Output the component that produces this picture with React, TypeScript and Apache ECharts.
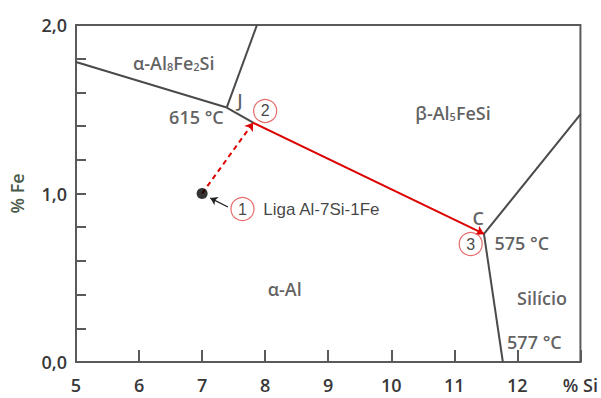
import React, { useEffect, useRef } from "react";
import * as echarts from "echarts";

// Boundary lines of the Al-Si-Fe liquidus projection (% Si, % Fe)
const boundaryAlphaJ = [[5, 1.78], [7.39, 1.51]];
const boundaryJTop = [[7.39, 1.51], [7.87, 2.0]];
const boundaryJ2 = [[7.39, 1.51], [7.81, 1.42]];
const boundaryCRight = [[11.47, 0.76], [13, 1.47]];
const boundaryCBottom = [[11.47, 0.76], [11.77, 0]];
// Solidification path
const redPath = [[7.81, 1.42], [11.47, 0.76]];
const dashedPath = [[7, 1.0], [7.81, 1.42]];
const alloyPoint = [7, 1.0];
const pointerArrow = [[7.41, 0.92], [7.13, 0.973]];

// Numbered markers
const markers = [
  { n: "1", si: 7.64, fe: 0.908 },
  { n: "2", si: 8.0, fe: 1.49 },
  { n: "3", si: 11.26, fe: 0.7 },
];

// Text annotations
const annotations = [
  { text: "α-Al{s|8}Fe{s|2}Si", si: 6.55, fe: 1.775 },
  { text: "β-Al{s|5}FeSi", si: 10.98, fe: 1.478 },
  { text: "α-Al", si: 8.31, fe: 0.433 },
  { text: "Silício", si: 12.39, fe: 0.38 },
  { text: "577 °C", si: 12.27, fe: 0.119 },
  { text: "575 °C", si: 12.07, fe: 0.706 },
  { text: "615 °C", si: 6.91, fe: 1.454 },
  { text: "J", si: 7.6, fe: 1.555 },
  { text: "C", si: 11.38, fe: 0.855 },
];
const alloyLabel = { text: "Liga Al-7Si-1Fe", si: 7.97, fe: 0.908 };

const xTicks = [5, 6, 7, 8, 9, 10, 11, 12, 13];
const xUnitLabel = "% Si";
const yName = "% Fe";

const DARK = "#383838";
const LINE = "#4a4a4a";
const RED = "#dd0000";
const FONT = "'Open Sans', Lato, sans-serif";
const WEIGHT = 600;

function boundary(data: number[][]) {
  return {
    type: "line",
    data,
    showSymbol: false,
    symbol: "none",
    lineStyle: { color: LINE, width: 2 },
    silent: true,
    z: 3,
  };
}

export default function App() {
  const ref = useRef<HTMLDivElement>(null);
  useEffect(() => {
    if (!ref.current) return;
    const chart = echarts.init(ref.current, undefined, { renderer: "svg" });
    chart.setOption({
      animation: false,
      grid: {
        left: 72,
        right: 13,
        top: 25,
        bottom: 36,
        show: true,
        borderColor: "#5a5a5a",
        borderWidth: 2,
      },
      xAxis: {
        type: "value",
        min: xTicks[0],
        max: xTicks[xTicks.length - 1],
        interval: 1,
        axisLine: { lineStyle: { color: "#5a5a5a", width: 2 } },
        axisTick: { inside: true, length: 12, lineStyle: { color: "#5a5a5a", width: 2 } },
        splitLine: { show: false },
        axisLabel: {
          fontFamily: FONT,
          fontSize: 18,
          fontWeight: WEIGHT,
          color: DARK,
          margin: 14,
          formatter: (v: number) => (v === xTicks[xTicks.length - 1] ? xUnitLabel : String(v)),
        },
      },
      yAxis: {
        type: "value",
        min: 0,
        max: 2,
        interval: 0.2,
        name: yName,
        nameLocation: "middle",
        nameGap: 50,
        nameRotate: 90,
        nameTextStyle: { fontFamily: FONT, fontSize: 18, fontWeight: WEIGHT, color: "#4a5a4a" },
        axisLine: { lineStyle: { color: "#5a5a5a", width: 2 } },
        axisTick: { inside: true, length: 10, lineStyle: { color: "#5a5a5a", width: 2 } },
        splitLine: { show: false },
        axisLabel: {
          fontFamily: FONT,
          fontSize: 18,
          fontWeight: WEIGHT,
          color: DARK,
          margin: 9,
          formatter: (v: number) =>
            Math.abs(v - Math.round(v)) < 1e-6 ? v.toFixed(1).replace(".", ",") : "",
        },
      },
      series: [
        boundary(boundaryAlphaJ),
        boundary(boundaryJTop),
        boundary(boundaryJ2),
        boundary(boundaryCRight),
        boundary(boundaryCBottom),
        {
          type: "line",
          data: [],
          silent: true,
          z: 4,
          markLine: {
            silent: true,
            animation: false,
            symbol: ["none", "arrow"],
            symbolSize: 8,
            label: { show: false },
            emphasis: { disabled: true },
            data: [
              [
                { coord: redPath[0], lineStyle: { color: RED, width: 2, type: "solid" } },
                { coord: redPath[1] },
              ],
              [
                { coord: dashedPath[0], lineStyle: { color: RED, width: 2, type: [5, 4] } },
                { coord: dashedPath[1] },
              ],
              [
                { coord: pointerArrow[0], lineStyle: { color: "#222", width: 1.3, type: "solid" }, symbolSize: 7 },
                { coord: pointerArrow[1], lineStyle: { color: "#222", width: 1.3, type: "solid" }, symbolSize: 7 },
              ],
            ],
          },
        },
        {
          type: "scatter",
          data: [alloyPoint],
          symbol: "circle",
          symbolSize: 11,
          itemStyle: { color: "#000" },
          silent: true,
          z: 6,
        },
        {
          type: "scatter",
          data: markers.map((m) => ({ value: [m.si, m.fe], name: m.n })),
          symbol: "circle",
          symbolSize: 23,
          itemStyle: { color: "#fff", borderColor: "#e04848", borderWidth: 1.2 },
          label: {
            show: true,
            position: "inside",
            formatter: (p: any) => p.name,
            fontFamily: "Arial, 'Liberation Sans', sans-serif",
            fontSize: 16,
            color: "#111",
          },
          silent: true,
          z: 7,
        },
        {
          type: "scatter",
          data: annotations.map((a) => ({ value: [a.si, a.fe], name: a.text })),
          symbolSize: 0,
          label: {
            show: true,
            position: "inside",
            formatter: (p: any) => p.name,
            fontFamily: FONT,
            fontSize: 18,
            fontWeight: WEIGHT,
            color: DARK,
            rich: {
              s: { fontFamily: FONT, fontSize: 11, fontWeight: WEIGHT, color: DARK, padding: [8, 0, 0, 0] },
            },
          },
          silent: true,
          z: 8,
        },
        {
          type: "scatter",
          data: [{ value: [alloyLabel.si, alloyLabel.fe], name: alloyLabel.text }],
          symbolSize: 0,
          label: {
            show: true,
            position: "right",
            distance: 0,
            formatter: (p: any) => p.name,
            fontFamily: "Arial, 'Liberation Sans', sans-serif",
            fontSize: 17,
            color: "#111",
          },
          silent: true,
          z: 8,
        },
      ],
    });
    return () => chart.dispose();
  }, []);
  return <div ref={ref} style={{ width: 601, height: 398, position: "absolute", left: 0, top: 0, background: "#fff" }} />;
}
